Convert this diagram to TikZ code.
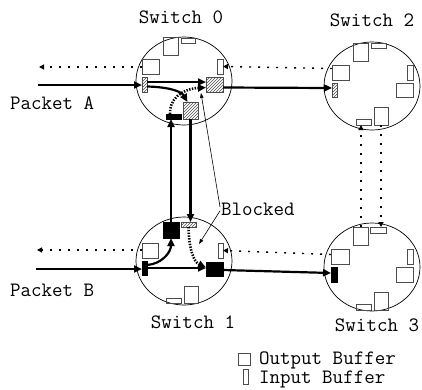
\documentclass[tikz,border=0pt]{standalone}
\usepackage{fontspec}
\usetikzlibrary{arrows.meta,patterns,shapes.geometric}
\newcommand\mybox[6]{\node[#2, minimum width={#5-#3}, minimum height={#6-#4}] (#1) at ({(#3+#5)/2},{(#4+#6)/2}) {};}
\tikzset{
  sw/.style={draw, ellipse, line width=0.7pt, minimum width=96, minimum height=88, inner sep=0},
  ob/.style={draw=black!70, line width=0.8pt, inner sep=0, outer sep=0},
  hb/.style={ob, pattern=north east lines, pattern color=black!70},
  blk/.style={draw=black, fill=black, line width=0.5pt, inner sep=0, outer sep=0},
  thickarr/.style={line width=2.2pt, -{Triangle[length=8pt,width=7pt]}},
  dotarr/.style={line width=1.4pt, dash pattern=on 2pt off 7pt, -{Triangle[length=5pt,width=5pt]}},
  blockarr/.style={line width=2.6pt, dash pattern=on 1.4pt off 1.4pt, -{Triangle[length=8pt,width=7pt]}},
  thinarr/.style={line width=0.6pt, -{Triangle[length=5pt,width=3.5pt]}},
  lbl/.style={font=\ttfamily\fontsize{20.4}{22}\selectfont, inner sep=0},
}
\begin{document}
\begin{tikzpicture}[x=1pt,y=-1pt]
\useasboundingbox (0,0) rectangle (422,389);
% switches
\node[sw] (S0) at (184,81) {};
\node[sw] (S1) at (184,261) {};
\node[sw] (S2) at (372,86) {};
\node[sw] (S3) at (372,267) {};
% titles
\node[lbl, anchor=base] (t0) at (181,23) {Switch 0};
\node[lbl, anchor=base] (t2) at (372,26) {Switch 2};
\node[lbl, anchor=base] (t1) at (193,328) {Switch 1};
\node[lbl, anchor=base] (t3) at (377,331) {Switch 3};
\node[lbl, anchor=base west] (pA) at (10,109) {Packet A};
\node[lbl, anchor=base west] (pB) at (10,296) {Packet B};
\node[lbl, anchor=base west, inner sep=1pt] (bk) at (220,215) {Blocked};
% switch 0 buffers
\mybox{s0t}{ob}{163}{37}{178}{55}
\mybox{s0tf}{ob}{181}{38}{195}{43}
\mybox{s0lb}{ob}{142}{59}{159}{74}
\mybox{s0rt}{ob}{217}{59}{223}{74}
\mybox{s0in}{hb}{142}{77}{147}{92}
\mybox{s0out}{hb}{206}{77}{223}{92}
\mybox{s0c}{hb}{183}{102}{198}{119}
\mybox{s0bk}{blk}{166}{114}{181}{119}
% switch 1 buffers
\mybox{s1bk}{blk}{163}{222}{179}{238}
\mybox{s1hf}{hb}{181}{222}{196}{227}
\mybox{s1lb}{ob}{142}{243}{158}{258}
\mybox{s1rt}{ob}{218}{243}{223}{258}
\mybox{s1in}{blk}{142}{261}{147}{275}
\mybox{s1out}{blk}{206}{262}{223}{276}
\mybox{s1bt}{ob}{184}{286}{198}{303}
\mybox{s1bf}{ob}{166}{298}{181}{303}
% switch 2 buffers
\mybox{s2t}{ob}{353}{43}{368}{61}
\mybox{s2tf}{ob}{371}{43}{386}{48}
\mybox{s2lb}{ob}{332}{65}{349}{80}
\mybox{s2rt}{ob}{407}{65}{413}{80}
\mybox{s2in}{hb}{332}{83}{337}{97}
\mybox{s2rb}{ob}{396}{83}{413}{97}
\mybox{s2bt}{ob}{374}{107}{388}{125}
\mybox{s2bf}{ob}{356}{119}{371}{125}
% switch 3 buffers
\mybox{s3t}{ob}{353}{227}{368}{245}
\mybox{s3tf}{ob}{370}{227}{386}{233}
\mybox{s3lb}{ob}{331}{249}{349}{264}
\mybox{s3rt}{ob}{407}{249}{413}{264}
\mybox{s3in}{blk}{331}{267}{337}{282}
\mybox{s3rb}{ob}{396}{267}{413}{282}
\mybox{s3bt}{ob}{374}{292}{388}{310}
\mybox{s3bf}{ob}{356}{304}{371}{310}
% free ends
\coordinate (pa) at (38,85);
\coordinate (pal) at (39,67);
\coordinate (pb) at (36,269);
\coordinate (pbl) at (37,250);
\coordinate (b0) at (201,93);
\coordinate (b1) at (199,244);
% external connectors
\draw[thickarr] (pa) -- (pa -| s0in.west);
\draw[dotarr] (s0lb.west |- pal) -- (pal);
\draw[thickarr] (pb) -- (pb -| s1in.west);
\draw[dotarr] (s1lb.west |- pbl) -- (pbl);
% switch 0 internal
\draw[thickarr] ([yshift=2.5pt]s0in.east) -- ([yshift=2.5pt]s0in.east -| s0out.west);
\draw[thickarr] ([yshift=-2pt]s0in.east) .. controls (168,87) and (181,91) .. ([xshift=-3pt]s0c.north);
\draw[blockarr] ([xshift=-3.5pt]s0bk.north) .. controls (169,100) and (181,89) .. ([yshift=-3pt]s0out.west);
% switch 1 internal
\draw[thickarr] (s1in.east) -- (s1in.east -| s1out.west);
\draw[thickarr] ([yshift=3pt]s1in.east) .. controls (162,264) and (171,252) .. (s1bk.south);
\draw[blockarr] (s1hf.south) .. controls (189,250) and (194,262) .. ([yshift=1.5pt]s1out.west);
% between 0 and 1
\draw[thickarr] (s1bk.north) -- (s1bk.north |- s0bk.south);
\draw[thickarr] (s0c.south) -- (s0c.south |- s1hf.north);
% between 0 and 2
\draw[thickarr] ([yshift=-3pt]s0out.east) -- ([yshift=2pt]s2in.west);
\draw[dotarr] ([yshift=4pt]s2lb.west) -- (s0rt.east);
% between 1 and 3
\draw[thickarr] ([yshift=-1pt]s1out.east) -- ([yshift=1.5pt]s3in.west);
\draw[dotarr] ([yshift=2pt]s3lb.west) -- (s1rt.east);
% between 2 and 3
\draw[dotarr] ([xshift=0.5pt]s3t.north) -- ([xshift=0.5pt]s3t.north |- s2bf.south);
\draw[dotarr] (s2bt.south) -- (s2bt.south |- s3tf.north);
% blocked pointer
\draw[thinarr] ([yshift=2pt]bk.west) -- (b0);
\draw[thinarr] ([yshift=-2pt]bk.west) -- (b1);
% legend
\mybox{lgo}{ob}{238}{353}{250}{365}
\mybox{lgi}{ob}{243}{369}{248}{384}
\node[lbl, anchor=base west] (lgot) at (259,364) {Output Buffer};
\node[lbl, anchor=base west] (lgit) at (259,383) {Input Buffer};
\end{tikzpicture}
\end{document}
